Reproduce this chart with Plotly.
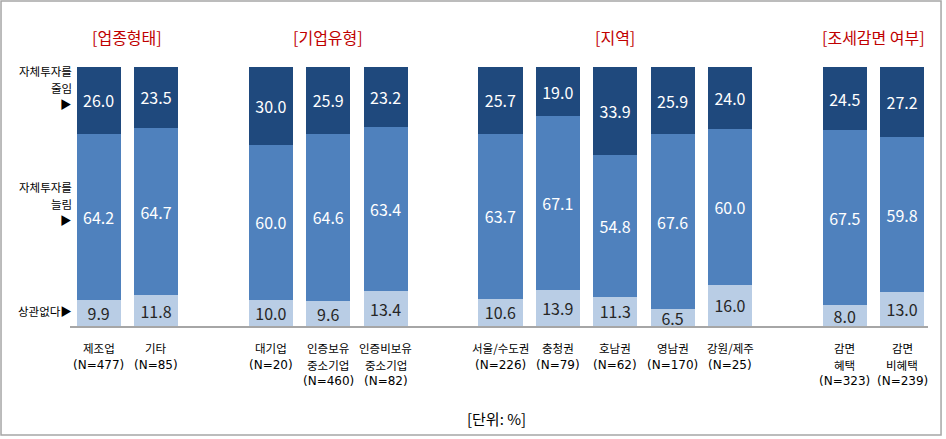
import plotly.graph_objects as go

# data
groups = ["[업종형태]", "[기업유형]", "[지역]", "[조세감면 여부]"]
group_sizes = [2, 3, 5, 2]
categories = [["제조업", "(N=477)"], ["기타", "(N=85)"],
              ["대기업", "(N=20)"], ["인증보유", "중소기업", "(N=460)"], ["인증비보유", "중소기업", "(N=82)"],
              ["서울/수도권", "(N=226)"], ["충청권", "(N=79)"], ["호남권", "(N=62)"], ["영남권", "(N=170)"],
              ["강원/제주", "(N=25)"],
              ["감면", "혜택", "(N=323)"], ["감면", "비혜택", "(N=239)"]]
no_matter = [9.9, 11.8, 10.0, 9.6, 13.4, 10.6, 13.9, 11.3, 6.5, 16.0, 8.0, 13.0]
increase = [64.2, 64.7, 60.0, 64.6, 63.4, 63.7, 67.1, 54.8, 67.6, 60.0, 67.5, 59.8]
decrease = [26.0, 23.5, 30.0, 25.9, 23.2, 25.7, 19.0, 33.9, 25.9, 24.0, 24.5, 27.2]
series_names = ["상관없다", "자체투자를 늘림", "자체투자를 줄임"]
row_labels = [["상관없다▶"], ["자체투자를", "늘림", "▶"], ["자체투자를", "줄임", "▶"]]

# slot positions: one empty slot between groups
GAP = 1
xpos = []
group_centers = []
cur = 0
for n in group_sizes:
    xs = list(range(cur, cur + n))
    xpos += xs
    group_centers.append((xs[0] + xs[-1]) / 2)
    cur += n + GAP

colors = ["#B9CDE5", "#4F81BD", "#1F497D"]
text_colors = ["#262626", "white", "white"]
FONT = "Noto Sans CJK KR"
LATIN = "DejaVu Sans"
LINE = 16.6  # px between label lines

fig = go.Figure()
for vals, name, col, tcol in zip([no_matter, increase, decrease], series_names, colors, text_colors):
    fig.add_trace(go.Bar(x=xpos, y=vals, name=name, width=0.77,
                         marker=dict(color=col, line=dict(width=0)),
                         text=[f"{v:.1f}" for v in vals],
                         textposition="inside", insidetextanchor="middle", textangle=0,
                         textfont=dict(color=tcol, size=16, family=FONT),
                         hoverinfo="skip"))

fig.update_layout(
    width=946, height=439,
    barmode="stack", showlegend=False,
    plot_bgcolor="white", paper_bgcolor="white",
    margin=dict(l=70, r=18, t=67, b=113),
    uniformtext=dict(minsize=16, mode="show"),
    font=dict(family=FONT),
    xaxis=dict(range=[-0.5, 14.45], showticklabels=False, showgrid=False, zeroline=False,
               showline=True, linecolor="#A6A6A6", linewidth=1.5),
    yaxis=dict(range=[0, 100], visible=False),
)

# category labels under bars, one annotation per line
for x, lines in zip(xpos, categories):
    for i, line in enumerate(lines):
        is_n = line.startswith("(N=")
        fig.add_annotation(x=x, y=0, yref="paper", text=line, showarrow=False,
                           yanchor="middle", yshift=-(22 + i * LINE),
                           font=dict(size=12 if is_n else 11.5, color="black",
                                     family=LATIN if is_n else FONT))

# group headers
for x, g in zip(group_centers, groups):
    fig.add_annotation(x=x, y=1, yref="paper", text=g, showarrow=False,
                       yanchor="middle", yshift=30,
                       font=dict(size=16, color="#C00000", family=FONT))

# left row labels (pixel row of first line from plot top)
for top, lines in zip([311, 187, 71], row_labels):
    for i, line in enumerate(lines):
        fig.add_annotation(x=0, xref="paper", y=1, yref="paper", text=line, showarrow=False,
                           xanchor="right", xshift=4, yanchor="middle",
                           yshift=-(top - 67 + i * LINE),
                           font=dict(size=11.5, color="black", family=FONT))

fig.add_annotation(x=0.5, xref="paper", y=0, yref="paper", text="[단위: %]",
                   showarrow=False, xanchor="center", yanchor="middle",
                   xshift=-3, yshift=-92,
                   font=dict(size=15, color="black", family=FONT))

# outer frame
fig.add_shape(type="rect", xref="paper", yref="paper",
              x0=-0.0804, x1=1.0152, y0=-0.4208, y1=1.2548,
              line=dict(color="#A6A6A6", width=1.5))

fig.write_html("out.html", config={"displayModeBar": False},
               post_script="document.body.style.margin='0';")
